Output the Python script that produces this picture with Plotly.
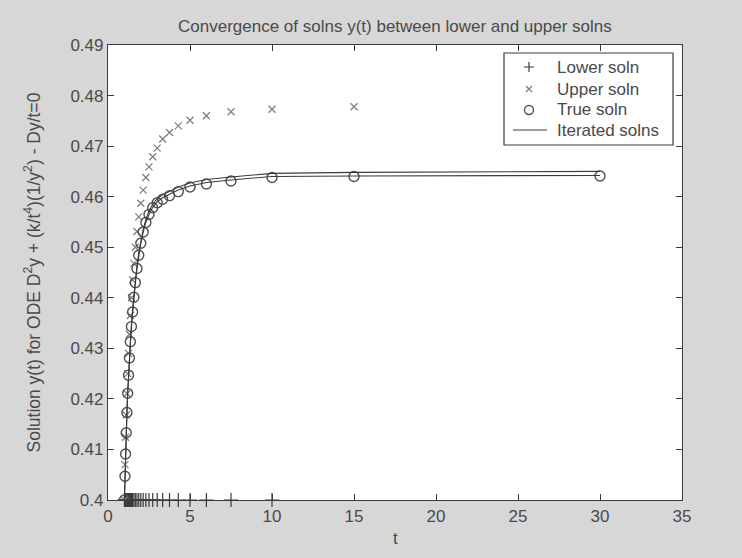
import plotly.graph_objects as go

# ---- data ----
t_vals = [1.000, 1.034, 1.071, 1.111, 1.154, 1.200, 1.250, 1.304, 1.364, 1.429,
          1.500, 1.579, 1.667, 1.765, 1.875, 2.000, 2.143, 2.308, 2.500, 2.727,
          3.000, 3.333, 3.750, 4.286, 5.000, 6.000, 7.500, 10.00, 15.00, 30.00]

true_soln = [0.4000, 0.4047, 0.4091, 0.4133, 0.4173, 0.4211, 0.4247, 0.4281, 0.4313, 0.4343,
             0.4372, 0.4401, 0.4430, 0.4458, 0.4484, 0.4508, 0.4530, 0.4549, 0.4565, 0.4578,
             0.4588, 0.4595, 0.4602, 0.4610, 0.4619, 0.4625, 0.4631, 0.4638, 0.4640, 0.4641]

t_upper = [1.000, 1.034, 1.071, 1.111, 1.154, 1.200, 1.250, 1.304, 1.364, 1.429,
           1.500, 1.579, 1.667, 1.765, 1.875, 2.000, 2.143, 2.308, 2.500, 2.727,
           3.000, 3.333, 3.750, 4.286, 5.000, 6.000, 7.500, 10.00, 15.00]
upper_soln = [0.4000, 0.4070, 0.4124, 0.4168, 0.4210, 0.4250, 0.4290, 0.4328, 0.4365, 0.4400,
              0.4435, 0.4468, 0.4500, 0.4531, 0.4560, 0.4587, 0.4613, 0.4638, 0.4659, 0.4679,
              0.4696, 0.4714, 0.4727, 0.4740, 0.4751, 0.4760, 0.4768, 0.4773, 0.4778]

t_lower = [1.000, 1.034, 1.071, 1.111, 1.154, 1.200, 1.250, 1.304, 1.364, 1.429,
           1.500, 1.579, 1.667, 1.765, 1.875, 2.000, 2.143, 2.308, 2.500, 2.727,
           3.000, 3.333, 3.750, 4.286, 5.000, 6.000, 7.500, 10.00]
lower_soln = [0.4] * len(t_lower)

iter_a = [0.4000, 0.4047, 0.4091, 0.4133, 0.4173, 0.4211, 0.4247, 0.4281, 0.4313, 0.4343,
          0.4372, 0.4401, 0.4430, 0.4458, 0.4484, 0.4508, 0.4530, 0.4549, 0.4565, 0.4579,
          0.4590, 0.4598, 0.4605, 0.4613, 0.4621, 0.4628, 0.4633, 0.4640, 0.4641, 0.4642]
iter_b = [0.4000, 0.4047, 0.4091, 0.4133, 0.4174, 0.4212, 0.4248, 0.4283, 0.4315, 0.4346,
          0.4376, 0.4405, 0.4434, 0.4462, 0.4489, 0.4513, 0.4535, 0.4555, 0.4571, 0.4585,
          0.4596, 0.4604, 0.4611, 0.4619, 0.4627, 0.4634, 0.4639, 0.4646, 0.4648, 0.4650]

y_ticks = [0.40, 0.41, 0.42, 0.43, 0.44, 0.45, 0.46, 0.47, 0.48, 0.49]
y_ticktext = ["0.4", "0.41", "0.42", "0.43", "0.44", "0.45", "0.46", "0.47", "0.48", "0.49"]
x_ticks = [0, 5, 10, 15, 20, 25, 30, 35]

legend_labels = ["Lower soln", "Upper soln", "True soln", "Iterated solns"]
title_text = "Convergence of solns y(t) between lower and upper solns"
ylabel_text = "Solution y(t) for ODE D<sup>2</sup>y + (k/t<sup>4</sup>)(1/y<sup>2</sup>) - Dy/t=0"
xlabel_text = "t"

# ---- styling / layout ----
FONT = "Liberation Sans, Arial, Helvetica, sans-serif"
TXT = "#4a4a4a"
DARK = "#3a3a3a"
UPC = "#808080"
W, H = 742, 558
L, R, T, B = 108, 60, 45, 58
pw, ph = W - L - R, H - T - B


def px(x):
    return (x - L) / pw


def py(y):
    return 1 - (y - T) / ph


fig = go.Figure()

fig.add_trace(go.Scatter(
    x=t_lower, y=lower_soln, mode="markers", name=legend_labels[0],
    marker=dict(symbol="cross-thin", size=10, line=dict(color=DARK, width=1.2)),
    cliponaxis=False, showlegend=False))
fig.add_trace(go.Scatter(
    x=t_upper, y=upper_soln, mode="markers", name=legend_labels[1],
    marker=dict(symbol="x-thin", size=7, line=dict(color=UPC, width=1.3)),
    showlegend=False))
fig.add_trace(go.Scatter(
    x=t_vals, y=true_soln, mode="markers", name=legend_labels[2],
    marker=dict(symbol="circle-open", size=10, color="#505050", line=dict(width=1.4)),
    showlegend=False))
fig.add_trace(go.Scatter(
    x=t_vals, y=iter_a, mode="lines", name=legend_labels[3],
    line=dict(color=DARK, width=1.1), showlegend=False))
fig.add_trace(go.Scatter(
    x=t_vals, y=iter_b, mode="lines", name=legend_labels[3],
    line=dict(color=DARK, width=1.1), showlegend=False))

axis_common = dict(
    showgrid=False, zeroline=False, showline=True, linecolor=DARK, linewidth=1.2,
    mirror="ticks", ticks="inside", ticklen=6, tickcolor=DARK, tickwidth=1,
    tickfont=dict(family=FONT, size=17, color=TXT),
)

# ---- hand-built legend box (MATLAB style) ----
leg_x0, leg_x1, leg_y0, leg_y1 = 504, 673, 53, 145
row_y = [67, 89, 110, 130]
sym_x = 529
text_x = 555

shapes = [
    dict(type="rect", xref="paper", yref="paper",
         x0=px(leg_x0), x1=px(leg_x1), y0=py(leg_y1), y1=py(leg_y0),
         fillcolor="#ffffff", line=dict(color=DARK, width=1.2), layer="above"),
    dict(type="path", xref="paper", yref="paper", xsizemode="pixel", ysizemode="pixel",
         xanchor=px(sym_x), yanchor=py(row_y[0]),
         path="M-5,0 L5,0 M0,-5 L0,5", line=dict(color=DARK, width=1.2), layer="above"),
    dict(type="path", xref="paper", yref="paper", xsizemode="pixel", ysizemode="pixel",
         xanchor=px(sym_x), yanchor=py(row_y[1]),
         path="M-3,-3 L3,3 M-3,3 L3,-3", line=dict(color=UPC, width=1.3), layer="above"),
    dict(type="circle", xref="paper", yref="paper", xsizemode="pixel", ysizemode="pixel",
         xanchor=px(sym_x), yanchor=py(row_y[2]), x0=-4.5, x1=4.5, y0=-4.5, y1=4.5,
         line=dict(color="#505050", width=1.4), layer="above"),
    dict(type="path", xref="paper", yref="paper", xsizemode="pixel", ysizemode="pixel",
         xanchor=px(sym_x), yanchor=py(row_y[3]),
         path="M-16,0 L18,0", line=dict(color=DARK, width=1.2), layer="above"),
]

annotations = [
    dict(text=title_text, xref="paper", yref="paper", x=0.5, y=py(27),
         xanchor="center", yanchor="middle", showarrow=False,
         font=dict(family=FONT, size=17, color=TXT)),
    dict(text=ylabel_text, xref="paper", yref="paper", x=px(32), y=0.5,
         xanchor="center", yanchor="middle", textangle=-90, showarrow=False,
         font=dict(family=FONT, size=17.5, color=TXT)),
    dict(text=xlabel_text, xref="paper", yref="paper", x=0.5, y=py(538),
         xanchor="center", yanchor="middle", showarrow=False,
         font=dict(family=FONT, size=17, color=TXT)),
]
for lab, ry in zip(legend_labels, row_y):
    annotations.append(dict(text=lab, xref="paper", yref="paper", x=px(text_x), y=py(ry),
                            xanchor="left", yanchor="middle", showarrow=False,
                            font=dict(family=FONT, size=17, color=TXT)))

fig.update_layout(
    width=W, height=H,
    margin=dict(l=L, r=R, t=T, b=B),
    paper_bgcolor="#d7d7d7",
    plot_bgcolor="#ffffff",
    font=dict(family=FONT, size=17, color=TXT),
    xaxis=dict(range=[0, 35], tickvals=x_ticks, **axis_common),
    yaxis=dict(range=[0.40, 0.49], tickvals=y_ticks, ticktext=y_ticktext, **axis_common),
    showlegend=False,
    shapes=shapes,
    annotations=annotations,
)

fig.write_html("out.html")
